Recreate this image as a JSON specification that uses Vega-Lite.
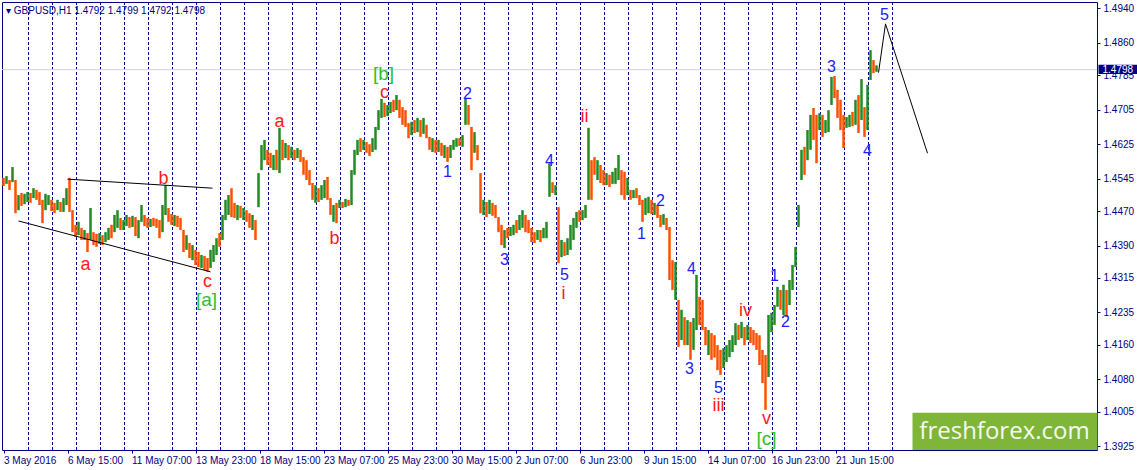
{
"$schema":"https://vega.github.io/schema/vega-lite/v6.json",
"width":1095,"height":448,
"autosize":{"type":"none"},
"padding":{"left":2,"top":2,"right":40,"bottom":20},
"background":"white",
"title":{"text":"▾  GBPUSD,H1 1.4792 1.4799 1.4792 1.4798","anchor":"start","frame":"group","orient":"top","offset":-14,"dx":4,"font":"Liberation Sans","fontSize":10,"fontWeight":"normal","color":"#000080"},
"datasets":{
"days":[{"t":25},{"t":49},{"t":73},{"t":97},{"t":121},{"t":145},{"t":169},{"t":193},{"t":217},{"t":241},{"t":265},{"t":289},{"t":313},{"t":337},{"t":361},{"t":385},{"t":409},{"t":433},{"t":457},{"t":481},{"t":505},{"t":529},{"t":553},{"t":577},{"t":601},{"t":625},{"t":649},{"t":673},{"t":697},{"t":721},{"t":745},{"t":769},{"t":793},{"t":817},{"t":841},{"t":865},{"t":889}],
"last":[{"p":1.4798}],
"lines":[{"g":"up","t":64,"p":1.4544},{"g":"up","t":209,"p":1.4523},{"g":"lo","t":15,"p":1.4447},{"g":"lo","t":207,"p":1.4329},{"g":"proj","t":875,"p":1.4791},{"g":"proj","t":882,"p":1.4904},{"g":"proj","t":924,"p":1.4604}],
"bars":[
{"t":0,"h":1.4547,"l":1.4528,"d":"dn"},{"t":3,"h":1.4551,"l":1.4533,"d":"up"},{"t":6,"h":1.4542,"l":1.4519,"d":"dn"},{"t":9,"h":1.4572,"l":1.4537,"d":"up"},{"t":12,"h":1.4542,"l":1.4465,"d":"dn"},{"t":15,"h":1.4507,"l":1.4472,"d":"up"},{"t":18,"h":1.4512,"l":1.4482,"d":"dn"},{"t":21,"h":1.4510,"l":1.4486,"d":"up"},{"t":24,"h":1.4514,"l":1.4491,"d":"up"},{"t":27,"h":1.4512,"l":1.4489,"d":"dn"},
{"t":30,"h":1.4523,"l":1.4500,"d":"up"},{"t":33,"h":1.4519,"l":1.4496,"d":"dn"},{"t":36,"h":1.4514,"l":1.4484,"d":"dn"},{"t":39,"h":1.4496,"l":1.4442,"d":"dn"},{"t":42,"h":1.4510,"l":1.4472,"d":"up"},{"t":45,"h":1.4507,"l":1.4484,"d":"up"},{"t":48,"h":1.4496,"l":1.4470,"d":"dn"},{"t":51,"h":1.4489,"l":1.4465,"d":"dn"},{"t":54,"h":1.4496,"l":1.4472,"d":"up"},{"t":57,"h":1.4491,"l":1.4468,"d":"dn"},
{"t":60,"h":1.4500,"l":1.4468,"d":"up"},{"t":63,"h":1.4523,"l":1.4484,"d":"up"},{"t":66,"h":1.4547,"l":1.4468,"d":"dn"},{"t":69,"h":1.4472,"l":1.4421,"d":"dn"},{"t":72,"h":1.4438,"l":1.4410,"d":"dn"},{"t":75,"h":1.4445,"l":1.4414,"d":"up"},{"t":78,"h":1.4431,"l":1.4403,"d":"dn"},{"t":81,"h":1.4426,"l":1.4403,"d":"up"},{"t":84,"h":1.4419,"l":1.4375,"d":"dn"},{"t":87,"h":1.4477,"l":1.4403,"d":"up"},
{"t":90,"h":1.4421,"l":1.4391,"d":"dn"},{"t":93,"h":1.4417,"l":1.4387,"d":"dn"},{"t":96,"h":1.4419,"l":1.4394,"d":"up"},{"t":99,"h":1.4414,"l":1.4391,"d":"dn"},{"t":102,"h":1.4421,"l":1.4398,"d":"up"},{"t":105,"h":1.4431,"l":1.4403,"d":"up"},{"t":108,"h":1.4438,"l":1.4407,"d":"dn"},{"t":111,"h":1.4461,"l":1.4421,"d":"up"},{"t":114,"h":1.4472,"l":1.4431,"d":"up"},{"t":117,"h":1.4454,"l":1.4426,"d":"dn"},
{"t":120,"h":1.4449,"l":1.4426,"d":"up"},{"t":123,"h":1.4461,"l":1.4435,"d":"up"},{"t":126,"h":1.4456,"l":1.4431,"d":"dn"},{"t":129,"h":1.4459,"l":1.4433,"d":"up"},{"t":132,"h":1.4456,"l":1.4412,"d":"dn"},{"t":135,"h":1.4449,"l":1.4407,"d":"up"},{"t":138,"h":1.4484,"l":1.4445,"d":"up"},{"t":141,"h":1.4461,"l":1.4435,"d":"dn"},{"t":144,"h":1.4454,"l":1.4431,"d":"dn"},{"t":147,"h":1.4452,"l":1.4433,"d":"up"},
{"t":150,"h":1.4454,"l":1.4435,"d":"dn"},{"t":153,"h":1.4452,"l":1.4431,"d":"dn"},{"t":156,"h":1.4449,"l":1.4407,"d":"dn"},{"t":159,"h":1.4484,"l":1.4421,"d":"up"},{"t":162,"h":1.4530,"l":1.4461,"d":"up"},{"t":165,"h":1.4477,"l":1.4445,"d":"dn"},{"t":168,"h":1.4463,"l":1.4438,"d":"dn"},{"t":171,"h":1.4461,"l":1.4435,"d":"up"},{"t":174,"h":1.4459,"l":1.4433,"d":"dn"},{"t":177,"h":1.4454,"l":1.4426,"d":"dn"},
{"t":180,"h":1.4426,"l":1.4375,"d":"dn"},{"t":183,"h":1.4414,"l":1.4380,"d":"up"},{"t":186,"h":1.4396,"l":1.4361,"d":"dn"},{"t":189,"h":1.4391,"l":1.4356,"d":"up"},{"t":192,"h":1.4380,"l":1.4345,"d":"dn"},{"t":195,"h":1.4375,"l":1.4340,"d":"dn"},{"t":198,"h":1.4368,"l":1.4338,"d":"up"},{"t":201,"h":1.4366,"l":1.4333,"d":"dn"},{"t":204,"h":1.4361,"l":1.4329,"d":"dn"},{"t":207,"h":1.4380,"l":1.4338,"d":"up"},
{"t":210,"h":1.4391,"l":1.4352,"d":"up"},{"t":213,"h":1.4407,"l":1.4368,"d":"up"},{"t":216,"h":1.4419,"l":1.4387,"d":"dn"},{"t":219,"h":1.4461,"l":1.4403,"d":"up"},{"t":222,"h":1.4496,"l":1.4449,"d":"up"},{"t":225,"h":1.4507,"l":1.4461,"d":"up"},{"t":228,"h":1.4523,"l":1.4456,"d":"dn"},{"t":231,"h":1.4489,"l":1.4454,"d":"dn"},{"t":234,"h":1.4484,"l":1.4449,"d":"up"},{"t":237,"h":1.4482,"l":1.4454,"d":"dn"},
{"t":240,"h":1.4477,"l":1.4449,"d":"up"},{"t":243,"h":1.4472,"l":1.4445,"d":"dn"},{"t":246,"h":1.4465,"l":1.4431,"d":"dn"},{"t":249,"h":1.4461,"l":1.4426,"d":"up"},{"t":252,"h":1.4449,"l":1.4403,"d":"dn"},{"t":255,"h":1.4558,"l":1.4479,"d":"up"},{"t":258,"h":1.4623,"l":1.4565,"d":"up"},{"t":261,"h":1.4635,"l":1.4588,"d":"up"},{"t":264,"h":1.4612,"l":1.4577,"d":"dn"},{"t":267,"h":1.4605,"l":1.4570,"d":"dn"},
{"t":270,"h":1.4600,"l":1.4565,"d":"up"},{"t":273,"h":1.4612,"l":1.4565,"d":"dn"},{"t":276,"h":1.4663,"l":1.4558,"d":"up"},{"t":279,"h":1.4635,"l":1.4588,"d":"dn"},{"t":282,"h":1.4628,"l":1.4593,"d":"up"},{"t":285,"h":1.4623,"l":1.4588,"d":"dn"},{"t":288,"h":1.4619,"l":1.4593,"d":"up"},{"t":291,"h":1.4612,"l":1.4588,"d":"dn"},{"t":294,"h":1.4616,"l":1.4593,"d":"up"},{"t":297,"h":1.4612,"l":1.4584,"d":"dn"},
{"t":300,"h":1.4595,"l":1.4554,"d":"dn"},{"t":303,"h":1.4588,"l":1.4542,"d":"dn"},{"t":306,"h":1.4565,"l":1.4530,"d":"dn"},{"t":309,"h":1.4535,"l":1.4496,"d":"dn"},{"t":312,"h":1.4530,"l":1.4489,"d":"up"},{"t":315,"h":1.4523,"l":1.4491,"d":"dn"},{"t":318,"h":1.4530,"l":1.4496,"d":"up"},{"t":321,"h":1.4542,"l":1.4500,"d":"up"},{"t":324,"h":1.4549,"l":1.4496,"d":"dn"},{"t":327,"h":1.4500,"l":1.4461,"d":"dn"},
{"t":330,"h":1.4484,"l":1.4445,"d":"up"},{"t":333,"h":1.4489,"l":1.4442,"d":"dn"},{"t":336,"h":1.4496,"l":1.4477,"d":"up"},{"t":339,"h":1.4491,"l":1.4477,"d":"dn"},{"t":342,"h":1.4498,"l":1.4479,"d":"up"},{"t":345,"h":1.4496,"l":1.4482,"d":"dn"},{"t":348,"h":1.4565,"l":1.4484,"d":"up"},{"t":351,"h":1.4612,"l":1.4554,"d":"up"},{"t":354,"h":1.4635,"l":1.4600,"d":"up"},{"t":357,"h":1.4639,"l":1.4607,"d":"dn"},
{"t":360,"h":1.4635,"l":1.4612,"d":"up"},{"t":363,"h":1.4630,"l":1.4605,"d":"dn"},{"t":366,"h":1.4625,"l":1.4598,"d":"dn"},{"t":369,"h":1.4639,"l":1.4607,"d":"up"},{"t":372,"h":1.4665,"l":1.4612,"d":"up"},{"t":375,"h":1.4704,"l":1.4658,"d":"up"},{"t":378,"h":1.4730,"l":1.4686,"d":"up"},{"t":381,"h":1.4721,"l":1.4688,"d":"dn"},{"t":384,"h":1.4716,"l":1.4690,"d":"up"},{"t":387,"h":1.4723,"l":1.4697,"d":"up"},
{"t":390,"h":1.4728,"l":1.4700,"d":"dn"},{"t":393,"h":1.4739,"l":1.4704,"d":"up"},{"t":396,"h":1.4728,"l":1.4686,"d":"dn"},{"t":399,"h":1.4711,"l":1.4670,"d":"dn"},{"t":402,"h":1.4704,"l":1.4665,"d":"dn"},{"t":405,"h":1.4674,"l":1.4639,"d":"dn"},{"t":408,"h":1.4677,"l":1.4646,"d":"up"},{"t":411,"h":1.4681,"l":1.4651,"d":"dn"},{"t":414,"h":1.4686,"l":1.4653,"d":"up"},{"t":417,"h":1.4681,"l":1.4642,"d":"dn"},
{"t":420,"h":1.4686,"l":1.4649,"d":"up"},{"t":423,"h":1.4670,"l":1.4639,"d":"dn"},{"t":426,"h":1.4642,"l":1.4612,"d":"dn"},{"t":429,"h":1.4639,"l":1.4607,"d":"up"},{"t":432,"h":1.4635,"l":1.4605,"d":"dn"},{"t":435,"h":1.4635,"l":1.4607,"d":"up"},{"t":438,"h":1.4628,"l":1.4598,"d":"dn"},{"t":441,"h":1.4623,"l":1.4593,"d":"up"},{"t":444,"h":1.4619,"l":1.4584,"d":"dn"},{"t":447,"h":1.4623,"l":1.4593,"d":"up"},
{"t":450,"h":1.4635,"l":1.4612,"d":"up"},{"t":453,"h":1.4639,"l":1.4619,"d":"up"},{"t":456,"h":1.4639,"l":1.4621,"d":"dn"},{"t":459,"h":1.4646,"l":1.4619,"d":"up"},{"t":462,"h":1.4730,"l":1.4670,"d":"up"},{"t":465,"h":1.4716,"l":1.4670,"d":"dn"},{"t":468,"h":1.4665,"l":1.4565,"d":"dn"},{"t":471,"h":1.4653,"l":1.4605,"d":"up"},{"t":474,"h":1.4623,"l":1.4588,"d":"dn"},{"t":477,"h":1.4558,"l":1.4465,"d":"dn"},
{"t":480,"h":1.4496,"l":1.4461,"d":"up"},{"t":483,"h":1.4491,"l":1.4456,"d":"dn"},{"t":486,"h":1.4496,"l":1.4463,"d":"up"},{"t":489,"h":1.4489,"l":1.4459,"d":"dn"},{"t":492,"h":1.4484,"l":1.4454,"d":"dn"},{"t":495,"h":1.4456,"l":1.4421,"d":"dn"},{"t":498,"h":1.4438,"l":1.4391,"d":"dn"},{"t":501,"h":1.4426,"l":1.4384,"d":"up"},{"t":504,"h":1.4431,"l":1.4407,"d":"dn"},{"t":507,"h":1.4433,"l":1.4412,"d":"up"},
{"t":510,"h":1.4438,"l":1.4414,"d":"up"},{"t":513,"h":1.4449,"l":1.4419,"d":"dn"},{"t":516,"h":1.4461,"l":1.4426,"d":"up"},{"t":519,"h":1.4472,"l":1.4431,"d":"up"},{"t":522,"h":1.4461,"l":1.4421,"d":"dn"},{"t":525,"h":1.4449,"l":1.4419,"d":"dn"},{"t":528,"h":1.4431,"l":1.4398,"d":"dn"},{"t":531,"h":1.4421,"l":1.4396,"d":"dn"},{"t":534,"h":1.4426,"l":1.4403,"d":"up"},{"t":537,"h":1.4426,"l":1.4398,"d":"dn"},
{"t":540,"h":1.4431,"l":1.4407,"d":"up"},{"t":543,"h":1.4445,"l":1.4407,"d":"up"},{"t":546,"h":1.4581,"l":1.4503,"d":"up"},{"t":549,"h":1.4537,"l":1.4512,"d":"dn"},{"t":552,"h":1.4530,"l":1.4507,"d":"up"},{"t":555,"h":1.4479,"l":1.4349,"d":"dn"},{"t":558,"h":1.4403,"l":1.4363,"d":"up"},{"t":561,"h":1.4398,"l":1.4366,"d":"dn"},{"t":564,"h":1.4407,"l":1.4368,"d":"up"},{"t":567,"h":1.4438,"l":1.4380,"d":"up"},
{"t":570,"h":1.4454,"l":1.4403,"d":"up"},{"t":573,"h":1.4468,"l":1.4431,"d":"up"},{"t":576,"h":1.4472,"l":1.4445,"d":"dn"},{"t":579,"h":1.4472,"l":1.4449,"d":"up"},{"t":582,"h":1.4484,"l":1.4454,"d":"up"},{"t":585,"h":1.4663,"l":1.4496,"d":"up"},{"t":588,"h":1.4588,"l":1.4496,"d":"dn"},{"t":591,"h":1.4595,"l":1.4554,"d":"dn"},{"t":594,"h":1.4588,"l":1.4542,"d":"up"},{"t":597,"h":1.4577,"l":1.4535,"d":"dn"},
{"t":600,"h":1.4565,"l":1.4530,"d":"dn"},{"t":603,"h":1.4558,"l":1.4530,"d":"up"},{"t":606,"h":1.4554,"l":1.4526,"d":"dn"},{"t":609,"h":1.4561,"l":1.4533,"d":"up"},{"t":612,"h":1.4570,"l":1.4533,"d":"up"},{"t":615,"h":1.4600,"l":1.4542,"d":"up"},{"t":618,"h":1.4565,"l":1.4507,"d":"dn"},{"t":621,"h":1.4561,"l":1.4496,"d":"dn"},{"t":624,"h":1.4547,"l":1.4507,"d":"up"},{"t":627,"h":1.4519,"l":1.4496,"d":"dn"},
{"t":630,"h":1.4519,"l":1.4500,"d":"up"},{"t":633,"h":1.4523,"l":1.4500,"d":"dn"},{"t":636,"h":1.4507,"l":1.4484,"d":"dn"},{"t":639,"h":1.4496,"l":1.4445,"d":"dn"},{"t":642,"h":1.4500,"l":1.4461,"d":"up"},{"t":645,"h":1.4503,"l":1.4465,"d":"up"},{"t":648,"h":1.4496,"l":1.4463,"d":"dn"},{"t":651,"h":1.4489,"l":1.4461,"d":"up"},{"t":654,"h":1.4484,"l":1.4454,"d":"dn"},{"t":657,"h":1.4461,"l":1.4433,"d":"dn"},
{"t":660,"h":1.4463,"l":1.4438,"d":"up"},{"t":663,"h":1.4454,"l":1.4426,"d":"dn"},{"t":666,"h":1.4433,"l":1.4310,"d":"dn"},{"t":669,"h":1.4356,"l":1.4287,"d":"dn"},{"t":672,"h":1.4352,"l":1.4264,"d":"up"},{"t":675,"h":1.4264,"l":1.4155,"d":"dn"},{"t":678,"h":1.4241,"l":1.4171,"d":"up"},{"t":681,"h":1.4224,"l":1.4159,"d":"dn"},{"t":684,"h":1.4217,"l":1.4159,"d":"up"},{"t":687,"h":1.4213,"l":1.4125,"d":"dn"},
{"t":690,"h":1.4222,"l":1.4148,"d":"up"},{"t":693,"h":1.4322,"l":1.4194,"d":"up"},{"t":696,"h":1.4271,"l":1.4206,"d":"dn"},{"t":699,"h":1.4264,"l":1.4194,"d":"dn"},{"t":702,"h":1.4201,"l":1.4159,"d":"dn"},{"t":705,"h":1.4194,"l":1.4136,"d":"up"},{"t":708,"h":1.4187,"l":1.4125,"d":"dn"},{"t":711,"h":1.4182,"l":1.4130,"d":"dn"},{"t":714,"h":1.4159,"l":1.4101,"d":"dn"},{"t":717,"h":1.4148,"l":1.4090,"d":"dn"},
{"t":720,"h":1.4152,"l":1.4106,"d":"up"},{"t":723,"h":1.4159,"l":1.4120,"d":"up"},{"t":726,"h":1.4171,"l":1.4131,"d":"up"},{"t":729,"h":1.4182,"l":1.4143,"d":"up"},{"t":732,"h":1.4210,"l":1.4159,"d":"up"},{"t":735,"h":1.4206,"l":1.4171,"d":"dn"},{"t":738,"h":1.4213,"l":1.4175,"d":"up"},{"t":741,"h":1.4201,"l":1.4159,"d":"dn"},{"t":744,"h":1.4206,"l":1.4171,"d":"up"},{"t":747,"h":1.4201,"l":1.4164,"d":"dn"},
{"t":750,"h":1.4194,"l":1.4159,"d":"dn"},{"t":753,"h":1.4187,"l":1.4148,"d":"dn"},{"t":756,"h":1.4182,"l":1.4113,"d":"dn"},{"t":759,"h":1.4148,"l":1.4071,"d":"dn"},{"t":762,"h":1.4136,"l":1.4009,"d":"dn"},{"t":765,"h":1.4229,"l":1.4085,"d":"up"},{"t":768,"h":1.4234,"l":1.4189,"d":"up"},{"t":771,"h":1.4252,"l":1.4206,"d":"up"},{"t":774,"h":1.4294,"l":1.4248,"d":"up"},{"t":777,"h":1.4287,"l":1.4241,"d":"dn"},
{"t":780,"h":1.4299,"l":1.4229,"d":"up"},{"t":783,"h":1.4287,"l":1.4224,"d":"dn"},{"t":786,"h":1.4310,"l":1.4252,"d":"up"},{"t":789,"h":1.4345,"l":1.4287,"d":"up"},{"t":792,"h":1.4387,"l":1.4340,"d":"up"},{"t":795,"h":1.4484,"l":1.4433,"d":"up"},{"t":798,"h":1.4612,"l":1.4542,"d":"up"},{"t":801,"h":1.4619,"l":1.4554,"d":"dn"},{"t":804,"h":1.4658,"l":1.4588,"d":"up"},{"t":807,"h":1.4693,"l":1.4612,"d":"up"},
{"t":810,"h":1.4709,"l":1.4635,"d":"dn"},{"t":813,"h":1.4693,"l":1.4581,"d":"dn"},{"t":816,"h":1.4697,"l":1.4658,"d":"up"},{"t":819,"h":1.4693,"l":1.4642,"d":"dn"},{"t":822,"h":1.4681,"l":1.4651,"d":"up"},{"t":825,"h":1.4704,"l":1.4653,"d":"up"},{"t":828,"h":1.4781,"l":1.4716,"d":"up"},{"t":831,"h":1.4783,"l":1.4732,"d":"dn"},{"t":834,"h":1.4751,"l":1.4686,"d":"dn"},{"t":837,"h":1.4728,"l":1.4658,"d":"dn"},
{"t":840,"h":1.4693,"l":1.4616,"d":"dn"},{"t":843,"h":1.4688,"l":1.4663,"d":"up"},{"t":846,"h":1.4693,"l":1.4665,"d":"up"},{"t":849,"h":1.4700,"l":1.4667,"d":"dn"},{"t":852,"h":1.4728,"l":1.4670,"d":"up"},{"t":855,"h":1.4739,"l":1.4651,"d":"dn"},{"t":858,"h":1.4776,"l":1.4681,"d":"up"},{"t":861,"h":1.4711,"l":1.4642,"d":"dn"},{"t":864,"h":1.4763,"l":1.4658,"d":"up"},{"t":867,"h":1.4843,"l":1.4774,"d":"up"},
{"t":870,"h":1.4820,"l":1.4790,"d":"dn"},{"t":873,"h":1.4808,"l":1.4793,"d":"up"}
],
"waves":[
{"t":82,"p":1.4345,"s":"a","deg":"minor"},{"t":160,"p":1.4544,"s":"b","deg":"minor"},{"t":204,"p":1.4306,"s":"c","deg":"minor"},{"t":203,"p":1.4263,"s":"[a]","deg":"inter"},
{"t":276,"p":1.4677,"s":"a","deg":"minor"},{"t":331,"p":1.4405,"s":"b","deg":"minor"},{"t":381,"p":1.4743,"s":"c","deg":"minor"},{"t":380,"p":1.4788,"s":"[b]","deg":"inter"},
{"t":444,"p":1.4561,"s":"1","deg":"minute"},{"t":464,"p":1.4741,"s":"2","deg":"minute"},{"t":501,"p":1.4356,"s":"3","deg":"minute"},{"t":546,"p":1.4586,"s":"4","deg":"minute"},{"t":561,"p":1.4321,"s":"5","deg":"minute"},
{"t":560,"p":1.4278,"s":"i","deg":"minor"},{"t":581,"p":1.4688,"s":"ii","deg":"minor"},
{"t":638,"p":1.4417,"s":"1","deg":"minute"},{"t":657,"p":1.4493,"s":"2","deg":"minute"},{"t":686,"p":1.4104,"s":"3","deg":"minute"},{"t":688,"p":1.4336,"s":"4","deg":"minute"},{"t":715,"p":1.4060,"s":"5","deg":"minute"},
{"t":715,"p":1.4018,"s":"iii","deg":"minor"},{"t":742,"p":1.4238,"s":"iv","deg":"minor"},{"t":763,"p":1.3987,"s":"v","deg":"minor"},{"t":763,"p":1.3942,"s":"[c]","deg":"inter"},
{"t":771,"p":1.4319,"s":"1","deg":"minute"},{"t":782,"p":1.4213,"s":"2","deg":"minute"},{"t":828,"p":1.4804,"s":"3","deg":"minute"},{"t":864,"p":1.4609,"s":"4","deg":"minute"},{"t":881,"p":1.4925,"s":"5","deg":"minute"}
]
},
"layer":[
{"data":{"name":"days"},"mark":{"type":"rule","color":"#00009c","strokeWidth":1,"strokeDash":[3,2]},
 "encoding":{"x":{"field":"t","type":"quantitative","title":null,"scale":{"domain":[-1.5,1093.5],"nice":false,"zero":false},
  "axis":{"values":[0,64,128,192,256,320,384,448,512,576,640,704,768,832],"tickCount":40,
   "labelExpr":"['3 May 2016','6 May 15:00','11 May 07:00','13 May 23:00','18 May 15:00','23 May 07:00','25 May 23:00','30 May 15:00','2 Jun 07:00','6 Jun 23:00','9 Jun 15:00','14 Jun 07:00','16 Jun 23:00','21 Jun 15:00'][round(datum.value/64)]",
   "labelAlign":"left","labelBaseline":"top","labelPadding":2,"tickSize":3,"domain":false,"grid":false,"labelFlush":false,"labelOverlap":false,"labelBound":false,
   "labelFont":"Liberation Sans","labelFontSize":10,"labelColor":"#000080","tickColor":"#000080"}}}},
{"data":{"name":"last"},"mark":{"type":"rule","color":"#d3d3d3","strokeWidth":1},
 "encoding":{"y":{"field":"p","type":"quantitative","title":null,"scale":{"domain":[1.39158,1.49548],"nice":false,"zero":false},
  "axis":{"orient":"right","values":[1.4940,1.4860,1.4785,1.4705,1.4625,1.4545,1.4470,1.4390,1.4315,1.4235,1.4160,1.4080,1.4005,1.3925],"tickCount":30,
   "format":".4f","tickSize":3,"labelPadding":3,"domain":false,"grid":false,"labelOverlap":false,"labelBound":false,"labelFlush":false,"labelFont":"Liberation Sans","labelFontSize":10,"labelColor":"#000080","tickColor":"#000080","labelBaseline":"middle"}}}},
{"data":{"name":"bars"},"mark":{"type":"rule","strokeWidth":2.5},
 "encoding":{"x":{"field":"t","type":"quantitative","title":null},"y":{"field":"h","type":"quantitative","title":null},"y2":{"field":"l"},
  "color":{"field":"d","type":"nominal","legend":null,"scale":{"domain":["up","dn"],"range":["#228b22","#ff5000"]}}}},
{"data":{"name":"lines"},"mark":{"type":"line","color":"#000000","strokeWidth":1},
 "encoding":{"x":{"field":"t","type":"quantitative","title":null},"y":{"field":"p","type":"quantitative","title":null},"detail":{"field":"g"}}},
{"data":{"name":"waves"},"mark":{"type":"text","font":"Liberation Sans","align":"center","baseline":"middle"},
 "encoding":{"x":{"field":"t","type":"quantitative","title":null},"y":{"field":"p","type":"quantitative","title":null},"text":{"field":"s"},
  "size":{"condition":[{"test":"datum.deg === 'inter'","value":19},{"test":"datum.deg === 'minute'","value":16}],"value":18},
  "color":{"field":"deg","type":"nominal","legend":null,"scale":{"domain":["minor","minute","inter"],"range":["#ff1a1a","#2020ff","#2cc02c"]}}}},
{"data":{"values":[{}]},"mark":{"type":"rect","color":"#7fb539"},
 "encoding":{"x":{"datum":909,"type":"quantitative"},"x2":{"datum":1094},"y":{"datum":1.4002,"type":"quantitative"},"y2":{"datum":1.39158}}},
{"data":{"values":[{"s":"freshforex.com"}]},"mark":{"type":"text","font":"Open Sans","fontSize":24,"align":"center","baseline":"middle","color":"#f5f9ee"},
 "encoding":{"x":{"datum":1001,"type":"quantitative"},"y":{"datum":1.3958,"type":"quantitative"},"text":{"field":"s"}}},
{"data":{"name":"last"},"mark":{"type":"rect","color":"#000080"},
 "encoding":{"x":{"datum":1095,"type":"quantitative"},"x2":{"datum":1134},"y":{"datum":1.4809,"type":"quantitative"},"y2":{"datum":1.4788}}},
{"data":{"name":"last"},"mark":{"type":"text","font":"Liberation Sans","fontSize":10,"align":"left","baseline":"middle","color":"#ffffff"},
 "encoding":{"x":{"datum":1099,"type":"quantitative"},"y":{"field":"p","type":"quantitative","title":null},"text":{"field":"p","format":".4f"}}}
],
"resolve":{"scale":{"color":"independent"}},
"config":{"view":{"stroke":"#000080","strokeWidth":1},"axis":{"labelFont":"Liberation Sans","labelOverlap":false}}
}
